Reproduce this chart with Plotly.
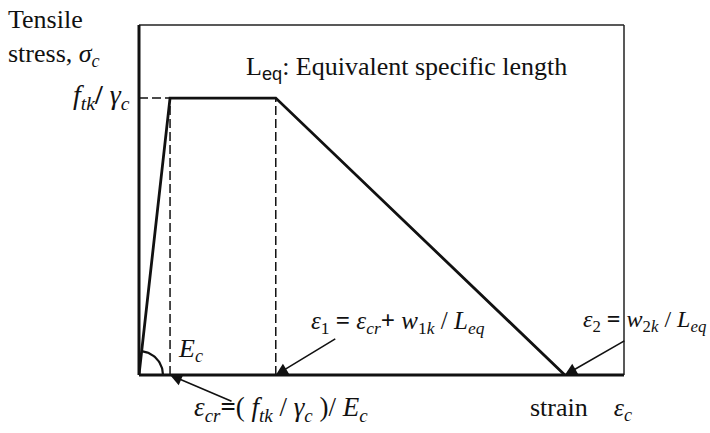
import numpy as np
import plotly.graph_objects as go

# Bilinear tension softening model (stress normalised to f_tk / gamma_c = 1)
strain = [0.0, 0.064, 0.282, 0.878]   # 0, eps_cr, eps_1, eps_2
stress = [0.0, 1.0, 1.0, 0.0]

W, H = 710, 433
ML, MR, MT, MB = 139, 86, 25, 58
PW, PH = W - ML - MR, H - MT - MB
XR = [0.0, 1.0]
YR = [0.0, 1.264]

SERIF = "Liberation Serif"
MATH = "Liberation Serif"

fig = go.Figure()

# elastic branch, plateau and linear softening
fig.add_trace(go.Scatter(x=strain, y=stress, mode="lines",
                         line=dict(color="#111", width=2.8),
                         hoverinfo="skip", showlegend=False))

# quarter arc marking the elastic modulus E_c
r_px = 24
ang = np.linspace(0, np.arctan2(PH * stress[1] / YR[1], PW * strain[1] / XR[1]), 30)
fig.add_trace(go.Scatter(x=r_px * np.cos(ang) / PW * (XR[1] - XR[0]),
                         y=r_px * np.sin(ang) / PH * (YR[1] - YR[0]),
                         mode="lines", line=dict(color="#111", width=2.2),
                         hoverinfo="skip", showlegend=False))

dash = dict(color="#111", width=1.5, dash="9px,4px")
shapes = [
    # dashed guides
    dict(type="line", xref="x", yref="y", x0=0, x1=strain[1], y0=stress[1], y1=stress[1], line=dash),
    dict(type="line", xref="x", yref="y", x0=strain[1], x1=strain[1], y0=0, y1=stress[1], line=dash),
    dict(type="line", xref="x", yref="y", x0=strain[2], x1=strain[2], y0=0, y1=stress[2], line=dash),
    # frame: thin top / right, heavy axes
    dict(type="line", xref="paper", yref="paper", x0=0, x1=1, y0=1, y1=1, line=dict(color="#222", width=1.5)),
    dict(type="line", xref="paper", yref="paper", x0=1, x1=1, y0=0, y1=1, line=dict(color="#222", width=1.5)),
    dict(type="line", xref="paper", yref="paper", x0=0, x1=0, y0=0, y1=1, line=dict(color="#111", width=3)),
    dict(type="line", xref="paper", yref="paper", x0=0, x1=1, y0=0, y1=0, line=dict(color="#111", width=3)),
]

def xp(px):
    return (px - ML) / PW

def yp(py):
    return (H - MB - py) / PH

ann = []

def text(x, y, s, size, family=SERIF, xanchor="left", **kw):
    ann.append(dict(x=x, y=y, xref="paper", yref="paper", text=s, showarrow=False,
                    xanchor=xanchor, yanchor="middle",
                    font=dict(family=family, size=size, color="#111"), **kw))

text(xp(6), yp(19), "Tensile", 26)
text(xp(6), yp(55), "stress, <i>σ</i><sub><i>c</i></sub>", 26)
text(0, yp(98), "<i>f</i><sub><i>tk</i></sub><b>/</b> <i>γ</i><sub><i>c</i></sub>", 28,
     family=MATH, xanchor="right", xshift=-7, yshift=1)
text(xp(244), yp(68), "L<sub><span style=\"font-family:Liberation Sans\">eq</span></sub>: Equivalent specific length", 26)
text(xp(176), yp(350), "<i>E</i><sub><i>c</i></sub>", 26, family=MATH)
text(xp(309), yp(322),
     "<i>ε</i><sub>1</sub> <b>=</b> <i>ε</i><sub><i>cr</i></sub><b>+</b> <i>w</i><sub>1<i>k</i></sub> / <i>L</i><sub><i>eq</i></sub>",
     25, family=MATH)
text(xp(581), yp(321),
     "<i>ε</i><sub>2</sub> <b>=</b> <i>w</i><sub>2<i>k</i></sub> / <i>L</i><sub><i>eq</i></sub>", 24, family=MATH)
text(xp(192), yp(409),
     "<i>ε</i><sub><i>cr</i></sub><b>=</b>( <i>f</i><sub><i>tk</i></sub> / <i>γ</i><sub><i>c</i></sub> )/ <i>E</i><sub><i>c</i></sub>",
     27, family=MATH)
text(xp(528), yp(409), "strain&nbsp;&nbsp;&nbsp;&nbsp;<i>ε</i><sub><i>c</i></sub>", 26)

# pointer arrows to the characteristic strains
for hx, ax, ay in [(strain[1], 63, 27), (strain[2], 61, -37), (strain[3], 61, -35)]:
    ann.append(dict(x=hx, y=0, xref="x", yref="y", ax=ax, ay=ay, text="",
                    showarrow=True, arrowhead=2, arrowsize=1.5, arrowwidth=1.6,
                    arrowcolor="#111"))

fig.update_layout(
    width=W, height=H,
    margin=dict(l=ML, r=MR, t=MT, b=MB),
    paper_bgcolor="white", plot_bgcolor="white",
    xaxis=dict(range=XR, visible=False, fixedrange=True),
    yaxis=dict(range=YR, visible=False, fixedrange=True),
    shapes=shapes, annotations=ann, showlegend=False,
)

fig.write_html("out.html")
